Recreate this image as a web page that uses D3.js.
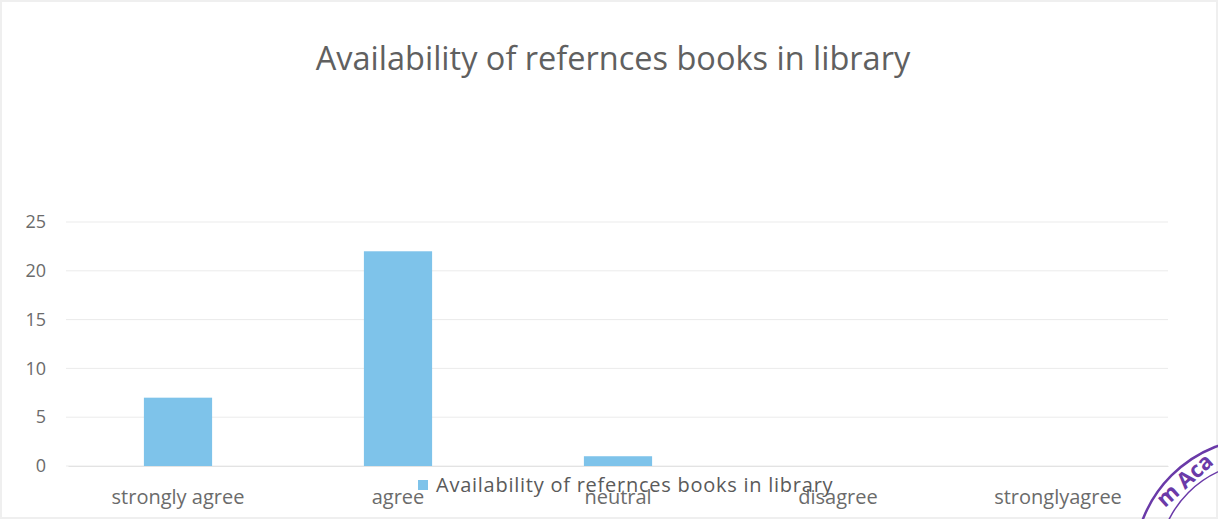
<!DOCTYPE html>
<html><head><meta charset="utf-8">
<script src="https://cdn.jsdelivr.net/npm/d3@7"></script>
<style>
html,body{margin:0;padding:0;background:#fff;}
svg text{font-family:"Open Sans","Noto Sans",sans-serif;}
</style></head>
<body><svg id="c" width="1218" height="519"></svg>
<script>
const categories = ["strongly agree","agree","neutral","disagree","stronglyagree"];
const values = [7, 22, 1, 0, 0];
const yTicks = [0,5,10,15,20,25];
const title = "Availability of refernces books in library";
const seriesName = "Availability of refernces books in library";

const svg = d3.select("#c");
const W = 1218, H = 519;
const m = {left:66, right:50, top:222, bottom:53};

// faint scanned border
svg.append("rect").attr("x",1).attr("y",1).attr("width",W-2).attr("height",H-2)
  .attr("fill","none").attr("stroke","#efefef").attr("stroke-width",2);

const x = d3.scaleBand().domain(categories).range([m.left+2, W-m.right]).paddingInner(0.69).paddingOuter(0.345);
const y = d3.scaleLinear().domain([0,25]).range([H-m.bottom, m.top]);

// gridlines
svg.append("g").selectAll("line").data(yTicks).join("line")
  .attr("x1",m.left).attr("x2",W-m.right)
  .attr("y1",d=>y(d)).attr("y2",d=>y(d))
  .attr("stroke","#ebebeb").attr("stroke-width",1);

// y axis
const ya = svg.append("g").attr("transform",`translate(${m.left},0)`)
  .call(d3.axisLeft(y).tickValues(yTicks).tickSize(0).tickPadding(20));
ya.select(".domain").remove();
ya.selectAll("text").attr("fill","#6b6b6b").style("font-size","18px");

// bars
svg.append("g").selectAll("rect").data(values).join("rect")
  .attr("x",(d,i)=>x(categories[i]))
  .attr("y",d=>y(d))
  .attr("width",x.bandwidth())
  .attr("height",d=>y(0)-y(d))
  .attr("fill","#7ec3ea");

// x axis
const xa = svg.append("g").attr("transform",`translate(0,${y(0)})`)
  .call(d3.axisBottom(x).tickSize(0).tickPadding(24));
xa.select(".domain").attr("stroke","#e3e3e3");
xa.selectAll("text").attr("fill","#6b6b6b").style("font-size","20px");

// title
svg.append("text").attr("x",613).attr("y",70).attr("text-anchor","middle")
  .attr("fill","#606060").style("font-size","32.5px").text(title);

// legend (overlapping axis labels as in original)
svg.append("rect").attr("x",418).attr("y",480).attr("width",10).attr("height",10).attr("fill","#7ec3ea");
svg.append("text").attr("x",436).attr("y",492).attr("fill","#5a5a5a")
  .style("font-size","20px").style("letter-spacing","0.75px").text(seriesName);

// stamp fragment
const st = svg.append("g").attr("transform","translate(1262,566)");
st.append("circle").attr("r",128).attr("fill","none").attr("stroke","#6a3aa8").attr("stroke-width",2.5);
st.append("circle").attr("r",104).attr("fill","none").attr("stroke","#6a3aa8").attr("stroke-width",1.5);
st.append("text").attr("transform","rotate(-42) translate(0,-108)").attr("text-anchor","middle")
  .attr("fill","#6a3aa8").style("font-size","22px").style("font-weight","bold").text("m Aca");
</script></body></html>
